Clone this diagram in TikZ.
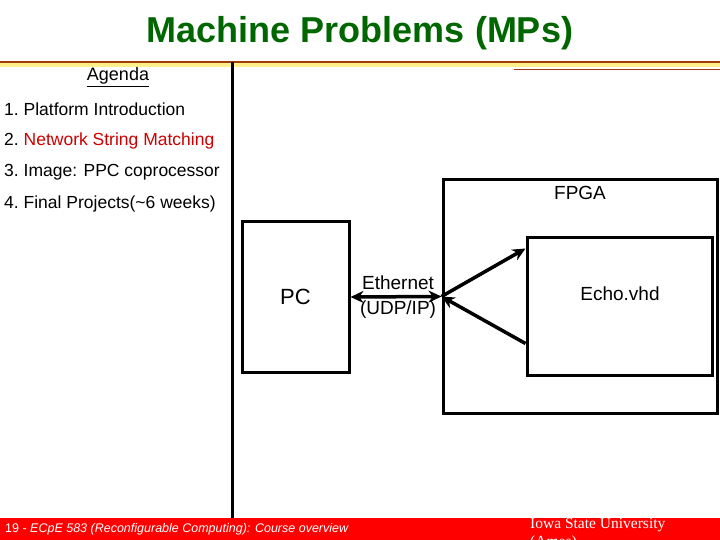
\documentclass[tikz,border=0pt]{standalone}
\usepackage{fontspec}
\setmainfont{Liberation Sans}
\newfontfamily\isufont{Liberation Serif}
\usepackage{xcolor}
\usepackage{tikz}
\usetikzlibrary{arrows.meta, positioning}
\definecolor{titlegreen}{RGB}{0,102,0}
\definecolor{itemred}{RGB}{204,0,0}
\definecolor{footred}{RGB}{255,0,0}
\definecolor{rulebrown}{RGB}{160,60,10}
\definecolor{ruleyellow}{RGB}{255,240,140}

\begin{document}
\begin{tikzpicture}[x=1pt, y=-1pt,
    box/.style={draw, line width=3pt, rectangle, inner sep=0pt},
    lbl/.style={font=\fontsize{19}{25}\selectfont, inner sep=0pt},
    item/.style={font=\fontsize{17.5}{21}\selectfont, anchor=west, inner sep=0pt},
    link/.style={line width=3.5pt, -{Stealth[length=13pt, width=12pt]}},
    bilink/.style={line width=3.5pt, {Stealth[length=13pt, width=12pt]}-{Stealth[length=13pt, width=12pt]}}]
  \clip (0,0) rectangle (720,540);
  \fill[white] (0,0) rectangle (720,540);
  % header
  \node[font=\fontsize{36}{40}\selectfont\bfseries, titlegreen] (title) at (360,33) {Machine Problems (MPs)};
  \fill[ruleyellow] (0,63) rectangle (720,67);
  \draw[rulebrown, line width=2pt] (0,62) -- (720,62);
  \draw[rulebrown, line width=1pt] (514,70) -- (720,70);
  \draw[line width=3pt] (232,62) -- (232,519);
  % agenda
  \node[font=\fontsize{18}{21}\selectfont] (agenda) at (118,77) {\underline{Agenda}};
  \foreach \i/\txt in {1/{Platform Introduction}, 2/{\textcolor{itemred}{Network String Matching}},
                       3/{Image: PPC coprocessor}, 4/{Final Projects(\textasciitilde6 weeks)}} {
    \pgfmathsetmacro{\yi}{78 + \i*31.4}
    \node[item] (item\i) at (4,\yi) {\i.\ \txt};
  }
  % boxes
  \node[box, minimum width=107pt, minimum height=150pt, font=\fontsize{22}{26}\selectfont] (pc) at (295.5,297) {PC};
  \node[box, minimum width=274pt, minimum height=233pt] (fpga) at (580,296.5) {};
  \node[box, minimum width=185pt, minimum height=138pt] (echo) at (619.5,306) {};
  \node[lbl, below=8pt of fpga.north] (fpgalbl) {FPGA};
  \node[lbl] (echolbl) at (620,294) {Echo.vhd};
  % links
  \draw[bilink] (pc.east) -- node[lbl, align=center, xshift=2pt] (eth) {Ethernet\\(UDP/IP)} (fpga.west);
  \coordinate (echoin) at ([yshift=-13pt]echo.north west);
  \coordinate (echoout) at ([yshift=33pt]echo.south west);
  \draw[link] (fpga.west) -- (echoin);
  \draw[link] (echoout) -- (fpga.west);
  % footer
  \fill[footred] (0,518) rectangle (720,540);
  \node[anchor=west, inner sep=0pt, white, font=\fontsize{12.5}{14}\selectfont] (foot) at (5,529)
    {19 - \textit{ECpE 583 (Reconfigurable Computing): Course overview}};
  \node[anchor=north west, inner sep=0pt, white, align=left, font=\isufont\fontsize{15.5}{18}\selectfont] (isu) at (530,518)
    {Iowa State University\\(Ames)};
\end{tikzpicture}
\end{document}
